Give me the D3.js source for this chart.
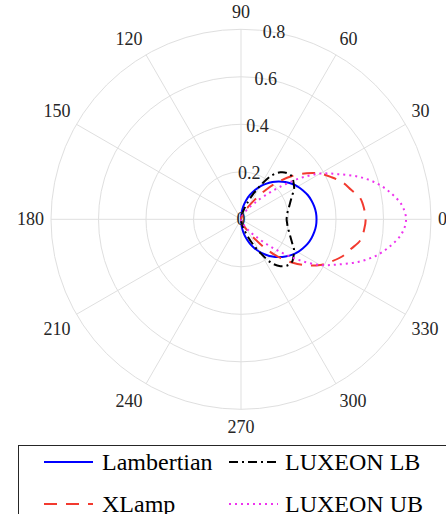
<!DOCTYPE html>
<html><head><meta charset="utf-8">
<script src="https://cdn.jsdelivr.net/npm/d3@7"></script>
<style>html,body{margin:0;padding:0;background:#fff;overflow:hidden}
svg text{font-family:"Liberation Serif","DejaVu Serif",serif;}
</style>
</head><body>
<svg id="c" width="446" height="514"></svg>
<script>
// Data (angles in degrees, intensity values)
const angles = [-90,-85,-80,-75,-70,-65,-60,-55,-50,-45,-40,-35,-30,-25,-20,-15,-10,-5,0,5,10,15,20,25,30,35,40,45,50,55,60,65,70,75,80,85,90];
const lambertian = [0,0.028,0.055,0.082,0.109,0.134,0.159,0.182,0.205,0.225,0.244,0.261,0.276,0.288,0.299,0.307,0.313,0.317,0.318,0.317,0.313,0.307,0.299,0.288,0.276,0.261,0.244,0.225,0.205,0.182,0.159,0.134,0.109,0.082,0.055,0.028,0];
const xlamp = [0,0.002,0.005,0.01,0.02,0.035,0.06,0.10,0.16,0.225,0.285,0.338,0.385,0.42,0.455,0.48,0.51,0.52,0.525,0.52,0.51,0.48,0.455,0.42,0.385,0.338,0.285,0.225,0.16,0.10,0.06,0.035,0.02,0.01,0.005,0.002,0];
const luxeonLB = [0,0.005,0.015,0.035,0.065,0.11,0.165,0.225,0.258,0.275,0.28,0.27,0.258,0.238,0.222,0.21,0.20,0.195,0.192,0.195,0.20,0.21,0.222,0.238,0.258,0.27,0.28,0.275,0.258,0.225,0.165,0.11,0.065,0.035,0.015,0.005,0];
const luxeonUB = [0,0.002,0.005,0.01,0.015,0.025,0.04,0.06,0.09,0.14,0.21,0.30,0.385,0.45,0.525,0.59,0.64,0.68,0.695,0.68,0.64,0.59,0.525,0.45,0.385,0.30,0.21,0.14,0.09,0.06,0.04,0.025,0.015,0.01,0.005,0.002,0];
const rTicks = [0,0.2,0.4,0.6,0.8];
const thetaTicks = [0,30,60,90,120,150,180,210,240,270,300,330];
const seriesNames = ["Lambertian","XLamp","LUXEON LB","LUXEON UB"];

const svg = d3.select("#c");
const cx = 241, cy = 219.3;
const r = d3.scaleLinear().domain([0,0.8]).range([0,190]);
const g = svg.append("g").attr("transform",`translate(${cx},${cy})`);
const rad = d => d*Math.PI/180;

g.selectAll("circle.grid").data(rTicks.slice(1)).enter().append("circle")
  .attr("r", d=>r(d)).attr("fill","none").attr("stroke","#dfdfdf").attr("stroke-width",1);
g.selectAll("line.spoke").data(thetaTicks).enter().append("line")
  .attr("x1",0).attr("y1",0)
  .attr("x2",d=>r(0.8)*Math.cos(rad(d))).attr("y2",d=>-r(0.8)*Math.sin(rad(d)))
  .attr("stroke","#dfdfdf").attr("stroke-width",1);

const styles = [
  {data:lambertian, color:"#0000ff", dash:null},
  {data:xlamp, color:"#f23a2f", dash:"13,9"},
  {data:luxeonLB, color:"#000000", dash:"9,4,2,4"},
  {data:luxeonUB, color:"#ee33ee", dash:"2,4"}
];
const line = d3.lineRadial().angle(d=>rad(90-d[0])).radius(d=>r(d[1])).curve(d3.curveCatmullRom);
styles.forEach(s=>{
  g.append("path").datum(angles.map((a,i)=>[a,s.data[i]]))
   .attr("d",line).attr("fill","none").attr("stroke",s.color).attr("stroke-width",2)
   .attr("stroke-dasharray",s.dash);
});

g.selectAll("text.rt").data(rTicks).enter().append("text")
  .attr("x",d=>r(d)*Math.cos(rad(80))).attr("y",d=>-r(d)*Math.sin(rad(80))+6)
  .attr("text-anchor","middle").attr("font-size",18).attr("fill","#262626")
  .text(d=>d===0?"0":d.toFixed(1));

const LR = 197;
g.selectAll("text.at").data(thetaTicks).enter().append("text")
  .attr("x",d=>LR*Math.cos(rad(d)))
  .attr("y",d=>{const s=Math.sin(rad(d)); const y=-LR*s; if(s>0.01) return y-4; if(s<-0.01) return y+17; return y+6;})
  .attr("text-anchor",d=>{const c=Math.cos(rad(d)); return c>0.01?"start":(c<-0.01?"end":"middle");})
  .attr("font-size",18).attr("fill","#262626")
  .text(d=>d);

const lg = svg.append("g");
lg.append("rect").attr("x",18.5).attr("y",445.5).attr("width",440).attr("height",90)
  .attr("fill","#fff").attr("stroke","#262626").attr("stroke-width",1);
const legPos = [[44,462,102],[44,504,102],[229,462,285],[229,504,285]];
legPos.forEach((p,i)=>{
  const s = styles[i];
  lg.append("line").attr("x1",p[0]).attr("x2",p[0]+49).attr("y1",p[1]).attr("y2",p[1])
    .attr("stroke",s.color).attr("stroke-width",2).attr("stroke-dasharray",s.dash);
  lg.append("text").attr("x",p[2]).attr("y",p[1]+8).attr("font-size",24)
    .attr("fill","#000").text(seriesNames[i]);
});
</script>
</body></html>
